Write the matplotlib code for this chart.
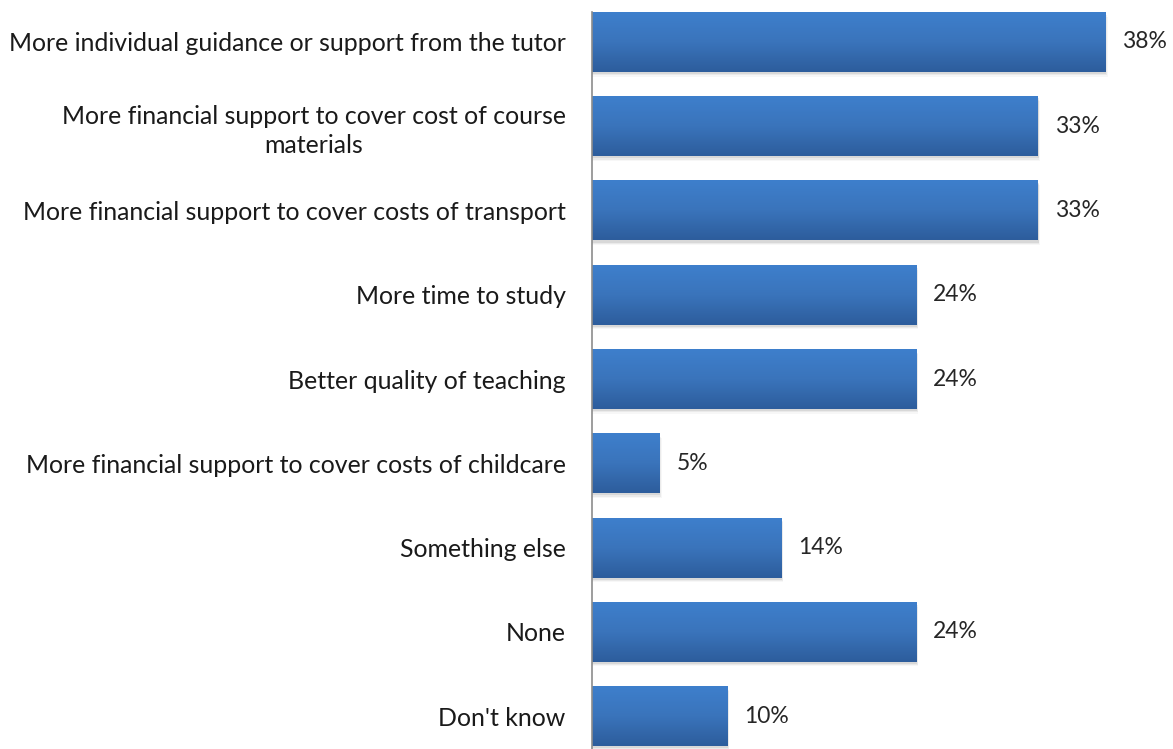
import numpy as np
import matplotlib.pyplot as plt
from matplotlib.colors import LinearSegmentedColormap

# Survey answers and share of respondents (%)
categories = [
    "More individual guidance or support from the tutor",
    "More financial support to cover cost of course\nmaterials",
    "More financial support to cover costs of transport",
    "More time to study",
    "Better quality of teaching",
    "More financial support to cover costs of childcare",
    "Something else",
    "None",
    "Don't know",
]
values = [38, 33, 33, 24, 24, 5, 14, 24, 10]

plt.rcParams['font.family'] = ['Lato', 'DejaVu Sans']

fig = plt.figure(figsize=(11.73, 7.49), dpi=100)
ax = fig.add_axes([592 / 1173, 0, 1 - 592 / 1173, 1 - 12 / 749])

bar_h = 0.71
y = np.arange(len(categories))
grad = LinearSegmentedColormap.from_list('bar', ['#3e7fcc', '#3a74bb', '#2d5d9c'])
g = np.linspace(0, 1, 64).reshape(-1, 1)

for yi, v in zip(y, values):
    # soft shadow under the bar
    for k, a in enumerate([0.08, 0.05, 0.03]):
        ax.add_patch(plt.Rectangle((0, yi - bar_h / 2 + 0.025 + 0.015 * k), v + 0.06 + 0.05 * k, bar_h,
                                   color='#000000', alpha=a, lw=0, zorder=1))
    ax.imshow(g, cmap=grad, aspect='auto', extent=(0, v, yi + bar_h / 2, yi - bar_h / 2),
              interpolation='bilinear', zorder=2)
    ax.text(v + 1.25, yi, f"{v}%", va='center', ha='left', fontsize=16.5, color='#262626')

ax.set_xlim(0, 43)
ax.set_ylim(8.39, -0.356)
ax.set_yticks(y)
ax.set_yticklabels(categories, fontsize=17.9, color='#1a1a1a', multialignment='center',
                   linespacing=1.3)
ax.tick_params(axis='y', length=0, pad=19)
ax.set_xticks([])
for s in ['top', 'right', 'bottom']:
    ax.spines[s].set_visible(False)
ax.spines['left'].set_color('#8c8c8c')
ax.spines['left'].set_linewidth(1.2)
ax.spines['left'].set_zorder(5)

fig.savefig('out.png', dpi=100)
